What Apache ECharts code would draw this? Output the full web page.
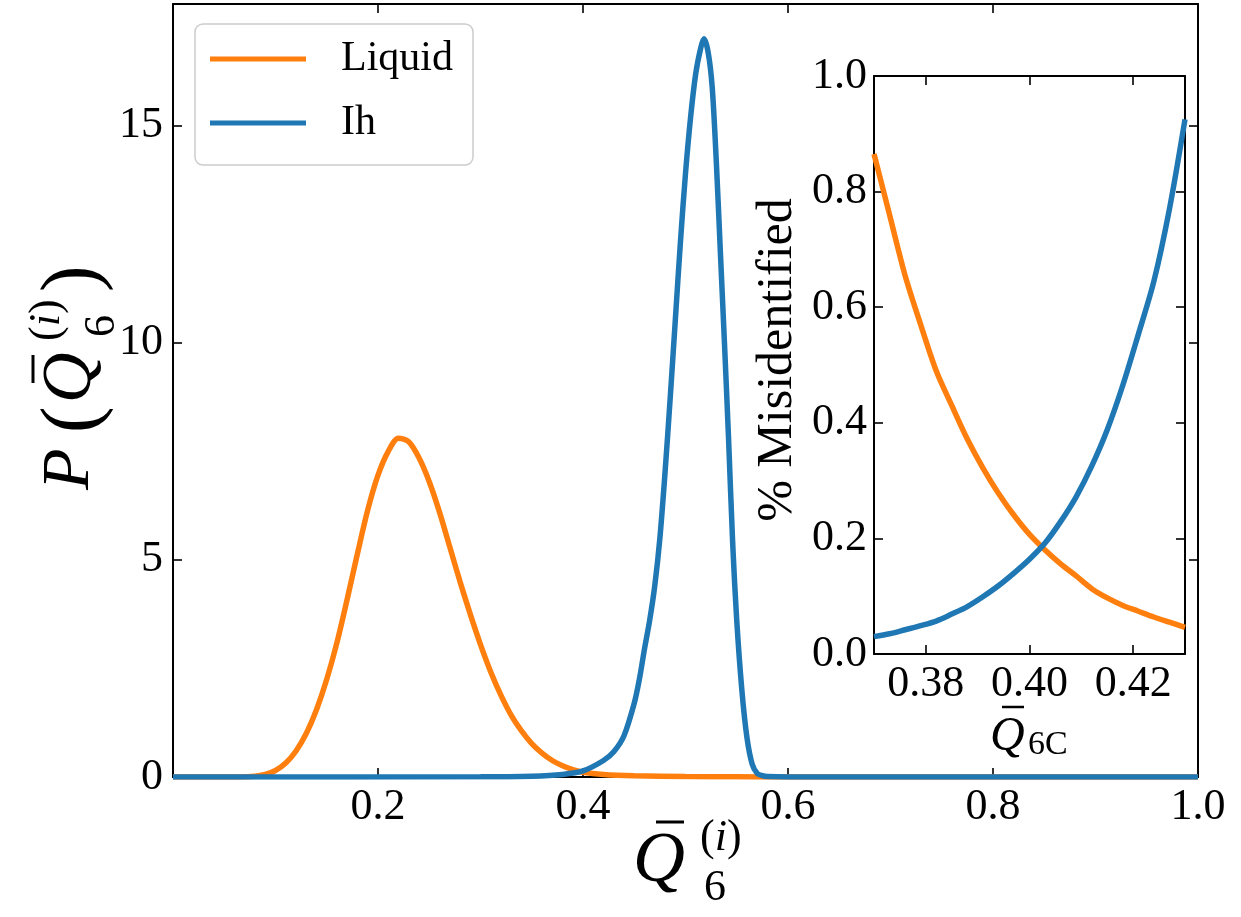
<!DOCTYPE html>
<html>
<head>
<meta charset="utf-8">
<script src="https://cdn.jsdelivr.net/npm/echarts@6/dist/echarts.min.js"></script>
<style>
html,body{margin:0;padding:0;background:#fff;}
#chart{width:1241px;height:917px;}
</style>
</head>
<body>
<div id="chart"></div>
<script>
// ---- Data ----
const liquidQ = [0, 0.05, 0.08, 0.09, 0.10, 0.11, 0.12, 0.13, 0.14, 0.15, 0.16, 0.17, 0.18, 0.19, 0.20, 0.21, 0.22, 0.23, 0.24, 0.25, 0.26, 0.27, 0.28, 0.29, 0.30, 0.31, 0.32, 0.33, 0.34, 0.35, 0.36, 0.37, 0.38, 0.39, 0.40, 0.42, 0.45, 0.50, 0.55, 0.60, 1.0];
const liquidP = [0, 0, 0.02, 0.06, 0.15, 0.32, 0.60, 1.0, 1.55, 2.25, 3.1, 4.1, 5.15, 6.15, 6.95, 7.5, 7.8, 7.72, 7.35, 6.8, 6.1, 5.3, 4.5, 3.75, 3.05, 2.42, 1.88, 1.42, 1.06, 0.77, 0.55, 0.38, 0.26, 0.17, 0.11, 0.06, 0.03, 0.01, 0.005, 0, 0];

const ihQ = [0, 0.30, 0.35, 0.38, 0.40, 0.42, 0.43, 0.44, 0.45, 0.455, 0.46, 0.465, 0.47, 0.475, 0.48, 0.485, 0.49, 0.495, 0.50, 0.505, 0.51, 0.515, 0.518, 0.522, 0.526, 0.530, 0.534, 0.538, 0.542, 0.546, 0.550, 0.555, 0.560, 0.565, 0.570, 0.575, 0.58, 0.60, 1.0];
const ihP = [0, 0.005, 0.02, 0.06, 0.14, 0.38, 0.58, 0.95, 1.7, 2.25, 2.95, 3.6, 4.4, 5.5, 7.0, 8.7, 10.5, 12.3, 13.9, 15.2, 16.2, 16.8, 17.0, 16.7, 15.9, 14.2, 12.1, 10.0, 7.8, 5.4, 3.6, 2.0, 0.9, 0.3, 0.08, 0.03, 0.01, 0, 0];

const insetLiquidQ = [0.370, 0.373, 0.376, 0.379, 0.382, 0.385, 0.388, 0.391, 0.394, 0.397, 0.400, 0.403, 0.406, 0.409, 0.412, 0.415, 0.418, 0.421, 0.424, 0.427, 0.430];
const insetLiquidMis = [0.865, 0.76, 0.655, 0.57, 0.49, 0.43, 0.372, 0.322, 0.278, 0.240, 0.207, 0.180, 0.156, 0.135, 0.113, 0.097, 0.084, 0.074, 0.064, 0.055, 0.046];

const insetIhQ = [0.370, 0.373, 0.376, 0.379, 0.382, 0.385, 0.388, 0.391, 0.394, 0.397, 0.400, 0.403, 0.406, 0.409, 0.412, 0.415, 0.418, 0.421, 0.424, 0.427, 0.430];
const insetIhMis = [0.030, 0.035, 0.042, 0.049, 0.057, 0.069, 0.082, 0.099, 0.118, 0.140, 0.164, 0.192, 0.229, 0.272, 0.325, 0.388, 0.465, 0.553, 0.645, 0.770, 0.925];

const mainXTicks = [0.2, 0.4, 0.6, 0.8, 1.0];
const mainYTicks = [0, 5, 10, 15];
const insetXTicks = [0.38, 0.40, 0.42];
const insetYTicks = [0, 0.2, 0.4, 0.6, 0.8, 1.0];

const seriesNames = ['Liquid', 'Ih'];
const ORANGE = '#ff7f0e', BLUE = '#1f77b4';
const FONT = 'Liberation Serif';

const zip = (a, b) => a.map((v, i) => [v, b[i]]);

function axisBase(extra) {
  return Object.assign({
    type: 'value',
    axisLine: { show: true, onZero: false, lineStyle: { color: '#000', width: 2 } },
    splitLine: { show: false },
    axisTick: { show: true, inside: true, length: 9, lineStyle: { color: '#000', width: 1.6 } },
    axisLabel: { show: true, color: '#000', fontFamily: FONT, fontSize: 44 }
  }, extra);
}
function ticks(vals) {
  return { show: true, inside: true, length: 9, customValues: vals, lineStyle: { color: '#000', width: 1.6 } };
}

const chart = echarts.init(document.getElementById('chart'), null, { renderer: 'canvas' });

function txt(x, y, text, size, opts) {
  return {
    type: 'text', x: x, y: y,
    style: Object.assign({ text: text, fontFamily: FONT, fontSize: size, fill: '#000', align: 'left', verticalAlign: 'middle' }, opts || {})
  };
}
function supI(x, y, size) {
  return { type: 'text', x: x, y: y, style: {
    rich: { p: { fontFamily: FONT, fontSize: size }, i: { fontFamily: FONT, fontSize: size, fontStyle: 'italic' } },
    text: '{p|(}{i|i}{p|)}', verticalAlign: 'middle', align: 'left', fill: '#000' } };
}

const lineSeries = (name, xi, yi, data, color) => ({
  name: name, type: 'line', xAxisIndex: xi, yAxisIndex: yi, data: data, showSymbol: false, smooth: 0.3,
  lineStyle: { color: color, width: 5.5 }, itemStyle: { color: color }
});

const option = {
  animation: false,
  backgroundColor: '#fff',
  grid: [
    { left: 173, right: 43, top: 4, bottom: 140, show: false },
    { left: 874, right: 56, top: 76, bottom: 263, show: true, backgroundColor: '#fff', borderWidth: 0 }
  ],
  xAxis: [
    axisBase({ gridIndex: 0, position: 'bottom', min: 0, max: 1, axisTick: ticks(mainXTicks),
      axisLabel: { color: '#000', fontFamily: FONT, fontSize: 44, margin: 8, customValues: mainXTicks, formatter: v => v.toFixed(1) } }),
    axisBase({ gridIndex: 0, position: 'top', min: 0, max: 1, axisTick: ticks(mainXTicks), axisLabel: { show: false } }),
    axisBase({ gridIndex: 1, position: 'bottom', min: 0.37, max: 0.43, axisTick: ticks(insetXTicks),
      axisLabel: { color: '#000', fontFamily: FONT, fontSize: 44, margin: 8, customValues: insetXTicks, formatter: v => v.toFixed(2) } }),
    axisBase({ gridIndex: 1, position: 'top', min: 0.37, max: 0.43, axisTick: ticks(insetXTicks), axisLabel: { show: false } })
  ],
  yAxis: [
    axisBase({ gridIndex: 0, position: 'left', min: 0, max: 17.8, axisTick: ticks(mainYTicks),
      axisLabel: { color: '#000', fontFamily: FONT, fontSize: 44, margin: 10, customValues: mainYTicks, formatter: v => String(v) } }),
    axisBase({ gridIndex: 0, position: 'right', min: 0, max: 17.8, axisTick: ticks(mainYTicks), axisLabel: { show: false } }),
    axisBase({ gridIndex: 1, position: 'left', min: 0, max: 1, axisTick: ticks(insetYTicks),
      axisLabel: { color: '#000', fontFamily: FONT, fontSize: 44, margin: 7, customValues: insetYTicks, formatter: v => v.toFixed(1) } }),
    axisBase({ gridIndex: 1, position: 'right', min: 0, max: 1, axisTick: ticks(insetYTicks), axisLabel: { show: false } })
  ],
  legend: {
    data: seriesNames,
    orient: 'vertical',
    left: 195, top: 24,
    icon: 'rect',
    itemWidth: 96, itemHeight: 5,
    itemGap: 14,
    padding: [10, 20, 17, 15],
    backgroundColor: '#fff',
    borderColor: '#cccccc', borderWidth: 1.5, borderRadius: 8,
    textStyle: { fontFamily: FONT, fontSize: 42, color: '#000', lineHeight: 50, padding: [0, 0, 0, 30] }
  },
  series: [
    lineSeries('Liquid', 0, 0, zip(liquidQ, liquidP), ORANGE),
    lineSeries('Ih', 0, 0, zip(ihQ, ihP), BLUE),
    lineSeries('Liquid', 2, 2, zip(insetLiquidQ, insetLiquidMis), ORANGE),
    lineSeries('Ih', 2, 2, zip(insetIhQ, insetIhMis), BLUE)
  ],
  graphic: [
    // main x-axis label: Q-bar_6^(i)
    { type: 'group', children: [
      txt(633, 862, 'Q', 72, { fontStyle: 'italic' }),
      { type: 'line', shape: { x1: 656, y1: 822, x2: 684, y2: 822 }, style: { stroke: '#000', lineWidth: 3 } },
      txt(704, 888, '6', 44),
      supI(700, 838, 44)
    ]},
    // main y-axis label, rotated
    { type: 'group', x: 20, y: 495, rotation: Math.PI / 2, children: [
      txt(5, 50, 'P', 68, { fontStyle: 'italic' }),
      txt(62, 55, '(', 80),
      txt(92, 52, 'Q', 70, { fontStyle: 'italic' }),
      { type: 'line', shape: { x1: 112, y1: 13, x2: 140, y2: 13 }, style: { stroke: '#000', lineWidth: 3 } },
      txt(158, 82, '6', 44),
      supI(154, 27, 44),
      txt(203, 55, ')', 80)
    ]},
    // inset x label
    { type: 'group', children: [
      txt(990, 737, 'Q', 48, { fontStyle: 'italic' }),
      { type: 'line', shape: { x1: 1002, y1: 707, x2: 1024, y2: 707 }, style: { stroke: '#000', lineWidth: 2.5 } },
      txt(1028, 745, '6C', 34)
    ]},
    // inset y label
    { type: 'text', x: 778, y: 360, rotation: Math.PI / 2,
      style: { text: '% Misidentified', fontFamily: FONT, fontSize: 50, fill: '#000', align: 'center', verticalAlign: 'middle' } }
  ]
};
chart.setOption(option);
</script>
</body>
</html>
